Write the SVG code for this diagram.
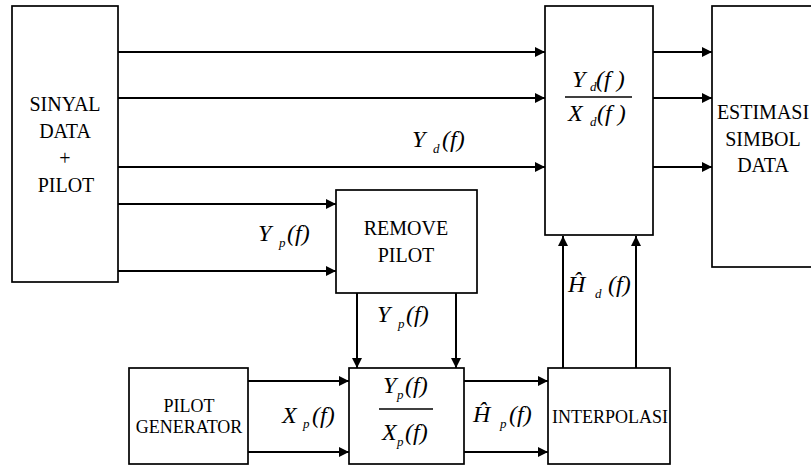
<svg xmlns="http://www.w3.org/2000/svg" width="811" height="465" viewBox="0 0 811 465" font-family="Liberation Serif, Times New Roman, DejaVu Serif, serif">
<defs>
<marker id="ah" markerUnits="userSpaceOnUse" markerWidth="11" markerHeight="11" refX="10" refY="5" orient="auto">
<path d="M0,0 L10,5 L0,10 z" fill="#000"/>
</marker>
<style>
.box{fill:#fff;stroke:#000;stroke-width:1.7}
.lbl{font-size:20px;fill:#000;text-anchor:middle}
.sm{font-size:18px}
.m{font-style:italic;font-size:24px;fill:#000}
.s{font-style:italic;font-size:13px;fill:#000}
.c line{stroke:#000;stroke-width:2;marker-end:url(#ah)}
.fr{stroke:#000;stroke-width:1.3}
</style>
</defs>
<rect width="811" height="465" fill="#fff"/>
<g class="c" id="connectors">
<line x1="118" y1="52" x2="545" y2="52"/>
<line x1="118" y1="98" x2="545" y2="98"/>
<line x1="118" y1="167" x2="545" y2="167"/>
<line x1="118" y1="204" x2="336" y2="204"/>
<line x1="118" y1="271" x2="336" y2="271"/>
<line x1="653" y1="52" x2="712" y2="52"/>
<line x1="653" y1="98" x2="712" y2="98"/>
<line x1="653" y1="167" x2="712" y2="167"/>
<line x1="357" y1="293" x2="357" y2="368"/>
<line x1="456" y1="293" x2="456" y2="368"/>
<line x1="248" y1="381" x2="349" y2="381"/>
<line x1="248" y1="452" x2="349" y2="452"/>
<line x1="464" y1="381" x2="548" y2="381"/>
<line x1="464" y1="452" x2="548" y2="452"/>
<line x1="563" y1="368" x2="563" y2="236"/>
<line x1="636" y1="368" x2="636" y2="236"/>
</g>
<g id="sinyal">
<rect class="box" x="12" y="6" width="106" height="276"/>
<text class="lbl" x="65" y="111">SINYAL</text>
<text class="lbl" x="65" y="138">DATA</text>
<text class="lbl" x="65" y="165">+</text>
<text class="lbl" x="66" y="192">PILOT</text>
</g>
<g id="division">
<rect class="box" x="545" y="6" width="108" height="229"/>
<text class="m" x="572" y="87">Y</text><text class="s" x="590" y="91">d</text><text class="m" x="596" y="87">(f )</text>
<line class="fr" x1="565" y1="97" x2="632" y2="97"/>
<text class="m" x="568" y="121">X</text><text class="s" x="590" y="126">d</text><text class="m" x="597" y="121">(f )</text>
</g>
<g id="estimasi">
<rect class="box" x="712" y="6" width="120" height="261"/>
<text class="lbl" x="763" y="119">ESTIMASI</text>
<text class="lbl" x="763" y="146">SIMBOL</text>
<text class="lbl" x="763" y="172">DATA</text>
</g>
<g id="remove-pilot">
<rect class="box" x="336" y="190" width="141" height="103"/>
<text class="lbl" x="406" y="235">REMOVE</text>
<text class="lbl" x="406" y="262">PILOT</text>
</g>
<g id="pilot-generator">
<rect class="box" x="129" y="368" width="119" height="96"/>
<text class="lbl sm" x="189" y="412">PILOT</text>
<text class="lbl sm" x="189" y="433">GENERATOR</text>
</g>
<g id="pilot-division">
<rect class="box" x="349" y="368" width="115" height="96"/>
<text class="m" x="383" y="393">Y</text><text class="s" x="397" y="399">p</text><text class="m" x="405" y="393">(f)</text>
<line class="fr" x1="379" y1="409" x2="433" y2="409"/>
<text class="m" x="382" y="440">X</text><text class="s" x="397" y="446">p</text><text class="m" x="405" y="440">(f)</text>
</g>
<g id="interpolasi">
<rect class="box" x="548" y="368" width="122" height="96"/>
<text class="lbl sm" x="610" y="423">INTERPOLASI</text>
</g>
<g id="labels">
<text class="m" x="412" y="147">Y</text><text class="s" x="433" y="153">d</text><text class="m" x="442" y="147">(f)</text>
<text class="m" x="258" y="241">Y</text><text class="s" x="279" y="247">p</text><text class="m" x="287" y="241">(f)</text>
<text class="m" x="377" y="322">Y</text><text class="s" x="398" y="328">p</text><text class="m" x="406" y="322">(f)</text>
<text class="m" x="282" y="423">X</text><text class="s" x="303" y="428">p</text><text class="m" x="312" y="423">(f)</text>
<text class="m" x="473" y="422">Ĥ</text><text class="s" x="500" y="428">p</text><text class="m" x="509" y="422">(f)</text>
<text class="m" x="568" y="292">Ĥ</text><text class="s" x="595" y="298">d</text><text class="m" x="608" y="292">(f)</text>
</g>
</svg>
